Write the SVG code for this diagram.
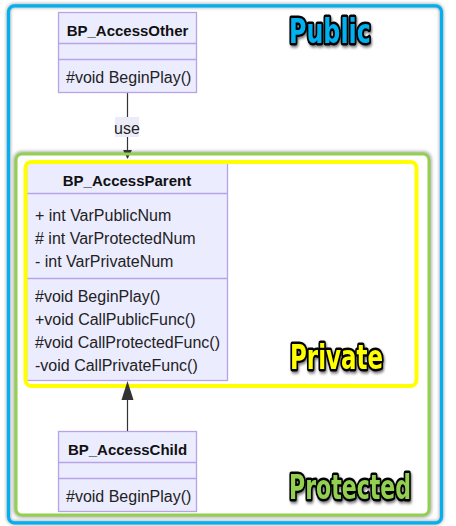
<svg xmlns="http://www.w3.org/2000/svg" width="456" height="526" viewBox="0 0 456 526">
<defs>
<filter id="soft" x="-5%" y="-5%" width="110%" height="110%"><feGaussianBlur stdDeviation="1.6"/></filter>
<filter id="tshadow" x="-20%" y="-30%" width="140%" height="160%">
<feGaussianBlur in="SourceAlpha" stdDeviation="1.8" result="b"/>
<feOffset dx="1.5" dy="1.5" in="b" result="o"/>
<feFlood flood-color="#000" flood-opacity="0.55"/>
<feComposite in2="o" operator="in" result="s"/>
<feMerge><feMergeNode in="s"/><feMergeNode in="SourceGraphic"/></feMerge>
</filter>
<marker id="arrowDep" viewBox="0 0 10 10" refX="9" refY="5" markerWidth="9" markerHeight="9" markerUnits="userSpaceOnUse" orient="auto">
<path d="M0,0 L10,5 L0,10 z" fill="#333"/>
</marker>
</defs>
<style>
.node rect{fill:#ECECFF;stroke:#b7a3e6;stroke-width:1.3}
.node line{stroke:#b7a3e6;stroke-width:1.3}
.t{font-family:"Liberation Sans",Arial,sans-serif;font-size:16px;fill:#222}
.title{font-family:"Liberation Sans",Arial,sans-serif;font-size:15px;font-weight:bold;fill:#111;text-anchor:middle}
.edge{stroke:#333;stroke-width:1.2;fill:none}
.big{font-family:"DejaVu Sans","Liberation Sans",sans-serif;font-weight:bold;font-size:34px;stroke:#000;stroke-width:5;stroke-linejoin:round;paint-order:stroke;filter:url(#tshadow)}
.shade{fill:none;stroke:#b8b8b8;stroke-width:5;filter:url(#soft)}
</style>
<rect x="0" y="0" width="456" height="526" fill="#fff"/>
<g id="frame-public">
<rect class="shade" x="8.5" y="5.8" width="433" height="517" rx="6"/>
<rect x="8.5" y="5.8" width="433" height="517" rx="6" fill="none" stroke="#00B0F0" stroke-width="3.2"/>
</g>
<g id="frame-protected-shade">
<rect class="shade" x="15.5" y="153.5" width="414" height="362" rx="6"/>
<rect x="16" y="154" width="413" height="361" rx="6" fill="#fff" stroke="none"/>
</g>
<g id="connectors">
<line class="edge" x1="127.5" y1="93" x2="127.5" y2="158" marker-end="url(#arrowDep)"/>
<rect x="115" y="117" width="24" height="20" fill="#ececf8"/>
<text class="t" x="127" y="134" text-anchor="middle">use</text>
</g>
<g id="frame-protected">
<rect x="16" y="154" width="413" height="361" rx="6" fill="none" stroke="#92D050" stroke-width="3"/>
</g>
<g id="BP_AccessOther" class="node">
<rect x="58.5" y="12.5" width="138" height="80"/>
<line x1="58.5" y1="43.5" x2="196.5" y2="43.5"/>
<line x1="58.5" y1="59.5" x2="196.5" y2="59.5"/>
<text class="title" x="127.5" y="36">BP_AccessOther</text>
<text class="t" x="66" y="83">#void BeginPlay()</text>
</g>
<g id="BP_AccessParent" class="node">
<rect x="26.5" y="162.5" width="201" height="218"/>
<line x1="26.5" y1="193.5" x2="227.5" y2="193.5"/>
<line x1="26.5" y1="278.5" x2="227.5" y2="278.5"/>
<text class="title" x="127" y="186">BP_AccessParent</text>
<text class="t" x="35" y="221">+ int VarPublicNum</text>
<text class="t" x="35" y="244"># int VarProtectedNum</text>
<text class="t" x="35" y="267">- int VarPrivateNum</text>
<text class="t" x="35" y="302">#void BeginPlay()</text>
<text class="t" x="35" y="325">+void CallPublicFunc()</text>
<text class="t" x="35" y="348">#void CallProtectedFunc()</text>
<text class="t" x="35" y="371">-void CallPrivateFunc()</text>
</g>
<g id="frame-private">
<rect x="25.5" y="162" width="391" height="224" rx="6" fill="none" stroke="#FFFF00" stroke-width="4"/>
</g>
<g id="BP_AccessChild" class="node">
<rect x="58.5" y="431.5" width="138" height="80"/>
<line x1="58.5" y1="462.5" x2="196.5" y2="462.5"/>
<line x1="58.5" y1="478.5" x2="196.5" y2="478.5"/>
<text class="title" x="127.5" y="455">BP_AccessChild</text>
<text class="t" x="66" y="502">#void BeginPlay()</text>
</g>
<g id="inherit">
<line class="edge" x1="127.5" y1="431" x2="127.5" y2="398"/>
<path d="M127.5,381 L133.5,400 L121.5,400 z" fill="#333"/>
</g>
<g id="labels">
<g transform="translate(289,43) scale(0.70,1)"><text class="big" x="0" y="0" fill="#00B0F0">Public</text></g>
<g transform="translate(290,369) scale(0.675,1)"><text class="big" x="0" y="0" fill="#FFFF00">Private</text></g>
<g transform="translate(289,499) scale(0.649,1)"><text class="big" x="0" y="0" fill="#92D050">Protected</text></g>
</g>
</svg>
